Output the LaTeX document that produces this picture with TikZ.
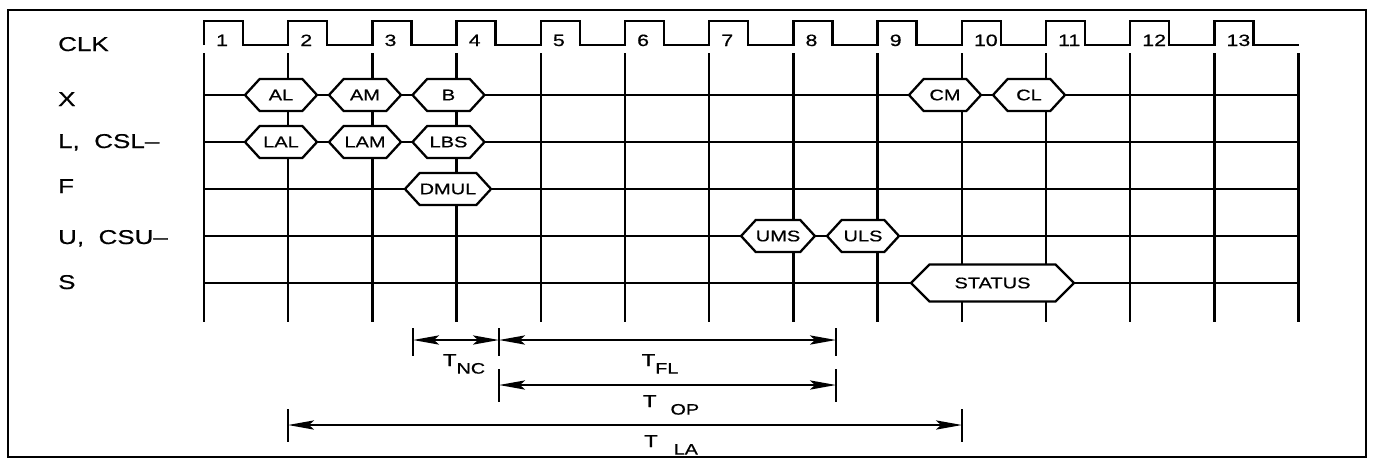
\documentclass[tikz,border=0pt]{standalone}
\usepackage{fontspec}
\setmainfont{Liberation Sans}[FakeStretch=1.3, FakeBold=0.6]
\usetikzlibrary{shapes.symbols, arrows.meta}

\newcommand{\tsub}[2]{T\hspace{#1}\raisebox{-3.8pt}{\fontsize{7.6}{8}\selectfont #2}}

\begin{document}
\begin{tikzpicture}[x=0.5pt, y=-0.5pt, line width=1.15pt, >={Stealth[length=13pt,width=4.6pt,inset=2.5pt]}]
  \tikzstyle{sig}=[anchor=base west, inner sep=0pt, font=\fontsize{10}{12}\selectfont];
  \tikzstyle{num}=[anchor=base west, inner sep=0pt, font=\fontsize{8.2}{9}\selectfont];
  \tikzstyle{bus}=[draw, fill=white, shape=signal, signal to=east and west, signal pointer angle=95, minimum height=16pt, minimum width=36pt, inner sep=0pt, font=\fontsize{7.7}{8}\selectfont];
  \tikzstyle{dim}=[<->, line width=1.1pt];
  \tikzstyle{lbl}=[anchor=base, inner sep=0pt, font=\fontsize{8.6}{9}\selectfont];
  \useasboundingbox (0,0) rectangle (1375,462);
  \draw[line width=1.1pt] (8,10) rectangle (1366,457);

  \node[sig] (clk) at (57,51) {CLK};
  \node[sig] (xrow) at (57,106) {X};
  \node[sig] (lrow) at (57,148) {L,\ \ CSL--};
  \node[sig] (frow) at (57,193) {F};
  \node[sig] (urow) at (57,244) {U,\ \ CSU--};
  \node[sig] (srow) at (57,289) {S};

  \draw (204,45) \foreach \k in {0,...,12} {-- ({204+84.2*\k},21) -- ({243+84.2*\k},21) -- ({243+84.2*\k},45) -- ({288.2+84.2*\k},45)};
  \foreach \k [count=\n] in {0,...,12}
    \node[num] (c\n) at ({215+84.2*\k},46) {\n};

  \foreach \k in {0,...,13}
    \draw ({204+84.2*\k},53) -- ({204+84.2*\k},322);
  \foreach \y in {95,142,189,236,283}
    \draw (204,\y) -- (1298.6,\y);

  \node[bus] (al) at (281,95) {AL};
  \node[bus] (am) at (365,95) {AM};
  \node[bus] (b) at (448.5,95) {B};
  \node[bus] (cm) at (945,95) {CM};
  \node[bus] (cl) at (1029,95) {CL};
  \node[bus] (lal) at (281,142) {LAL};
  \node[bus] (lam) at (365,142) {LAM};
  \node[bus] (lbs) at (448.5,142) {LBS};
  \node[bus] (dmul) at (448,189) {DMUL};
  \node[bus] (ums) at (778,236) {UMS};
  \node[bus] (uls) at (863,236) {ULS};
  \node[bus, minimum width=81.5pt, minimum height=18.5pt, signal pointer angle=90] (status) at (992.5,283) {STATUS};

  \coordinate (tncl) at (413,340);
  \coordinate (tncr) at (499,340);
  \coordinate (tflr) at (836,340);
  \coordinate (topl) at (499,385);
  \coordinate (topr) at (836,385);
  \coordinate (tlal) at (288,425);
  \coordinate (tlar) at (962,425);
  \foreach \c in {tncl,tncr,tflr}
    \draw (\c) ++(0,-12) -- ++(0,28);
  \foreach \c in {topl,topr,tlal,tlar}
    \draw (\c) ++(0,-16) -- ++(0,33);
  \path[dim]
  (tncl) edge (tncr)
  (tncr) edge (tflr)
  (topl) edge (topr)
  (tlal) edge (tlar);

  \node[lbl] (tnc) at (464,366) {\tsub{0pt}{NC}};
  \node[lbl] (tfl) at (660,366) {\tsub{0pt}{FL}};
  \node[lbl] (lop) at (671,407) {\tsub{7pt}{OP}};
  \node[lbl] (lla) at (671,447) {\tsub{8pt}{LA}};
\end{tikzpicture}
\end{document}
